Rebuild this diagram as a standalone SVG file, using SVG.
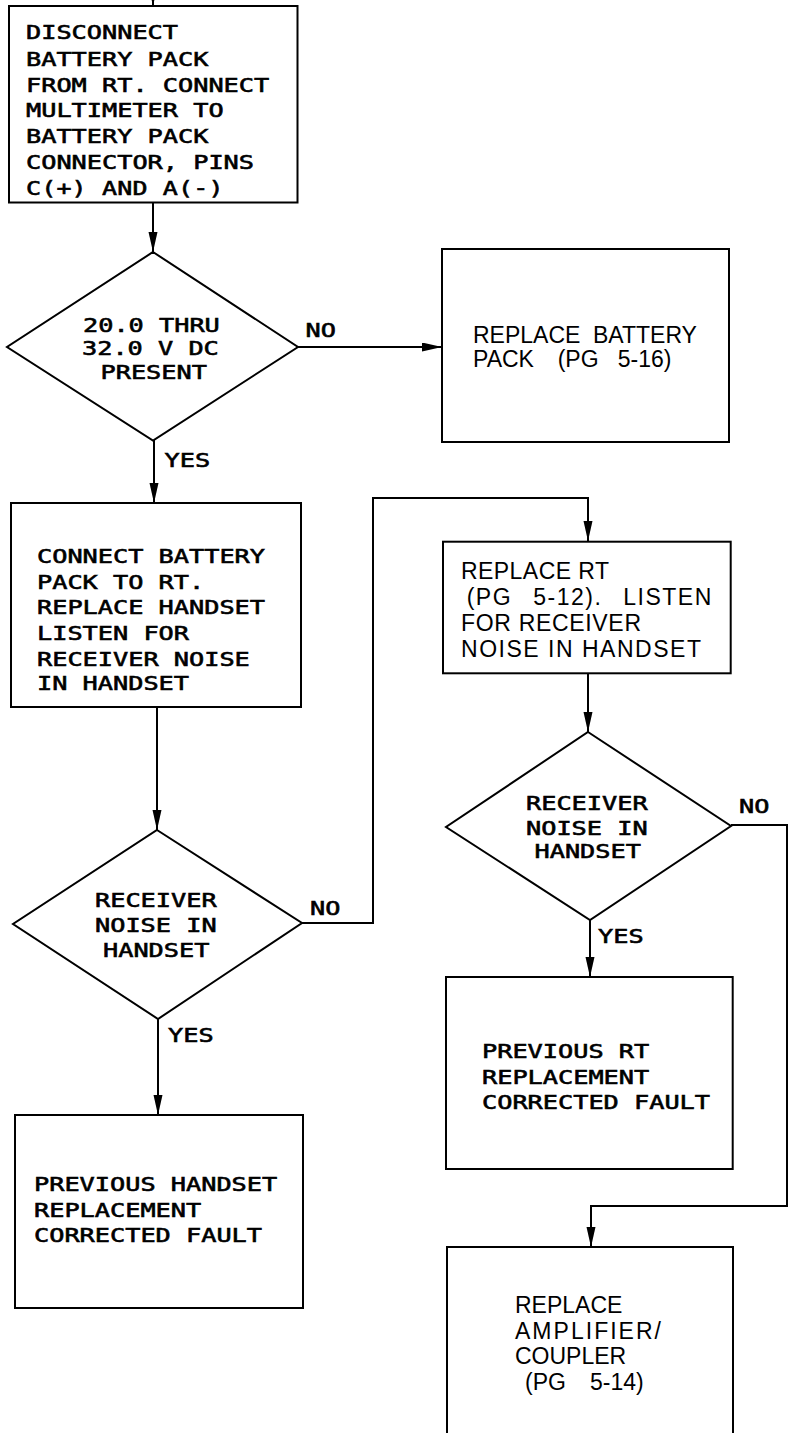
<svg xmlns="http://www.w3.org/2000/svg" width="788" height="1433" viewBox="0 0 788 1433">
<style>
.box{fill:none;stroke:#000;stroke-width:2}
.ln{fill:none;stroke:#000;stroke-width:2}
.p{font-family:"DejaVu Sans Mono","Liberation Mono",monospace;font-size:20px;font-weight:normal;fill:#000;stroke:#000;stroke-width:0.6}
.h{font-family:"Liberation Sans",Arial,sans-serif;font-size:23px;fill:#000}
</style>
<defs>
<marker id="arr" markerUnits="userSpaceOnUse" markerWidth="22" markerHeight="10" refX="20" refY="4.5" orient="auto">
<path d="M0,0 L20,4.5 L0,9 z" fill="#000"/>
</marker>
</defs>
<rect width="788" height="1433" fill="#fff"/>

<g id="connectors">
<path class="ln" d="M153,-20 V6" marker-end="url(#arr)"/>
<path class="ln" d="M153,202 V252" marker-end="url(#arr)"/>
<path class="ln" d="M298,347 H442" marker-end="url(#arr)"/>
<path class="ln" d="M154,440 V503" marker-end="url(#arr)"/>
<path class="ln" d="M157,707 V830" marker-end="url(#arr)"/>
<path class="ln" d="M302,923 H373 V498 H588 V541" marker-end="url(#arr)"/>
<path class="ln" d="M158,1019 V1115" marker-end="url(#arr)"/>
<path class="ln" d="M588,673 V732" marker-end="url(#arr)"/>
<path class="ln" d="M590,920 V977" marker-end="url(#arr)"/>
<path class="ln" d="M731,825 H787 V1206 H591 V1247" marker-end="url(#arr)"/>
<text class="p" x="305.5" y="337" textLength="30.4" lengthAdjust="spacingAndGlyphs">NO</text>
<text class="p" x="164.5" y="466.5" textLength="45.6" lengthAdjust="spacingAndGlyphs">YES</text>
<text class="p" x="310" y="915" textLength="30.4" lengthAdjust="spacingAndGlyphs">NO</text>
<text class="p" x="168" y="1042" textLength="45.6" lengthAdjust="spacingAndGlyphs">YES</text>
<text class="p" x="739" y="813" textLength="30.4" lengthAdjust="spacingAndGlyphs">NO</text>
<text class="p" x="598" y="943" textLength="45.6" lengthAdjust="spacingAndGlyphs">YES</text>
</g>

<g id="n1">
<rect class="box" x="9" y="6" width="288.5" height="196.5"/>
<text class="p" x="26" y="39" textLength="152" lengthAdjust="spacingAndGlyphs">DISCONNECT</text>
<text class="p" x="26" y="65.5" textLength="182.4" lengthAdjust="spacingAndGlyphs">BATTERY PACK</text>
<text class="p" x="26" y="91.5" textLength="243.2" lengthAdjust="spacingAndGlyphs">FROM RT. CONNECT</text>
<text class="p" x="26" y="117" textLength="197.6" lengthAdjust="spacingAndGlyphs">MULTIMETER TO</text>
<text class="p" x="26" y="143" textLength="182.4" lengthAdjust="spacingAndGlyphs">BATTERY PACK</text>
<text class="p" x="26" y="168.5" textLength="228" lengthAdjust="spacingAndGlyphs">CONNECTOR, PINS</text>
<text class="p" transform="translate(26,195) scale(1.25,1)" x="0 12.16 12.16 24.32 36.48 48.64 60.8 72.96 85.12 97.28 109.44 121.6 121.6 133.76 145.92" y="0">C (+) AND A (-)</text>
</g>

<g id="d1">
<polygon class="box" points="153,252 298,347 153,440.5 7,347"/>
<text class="p" x="83" y="331.5" textLength="136.8" lengthAdjust="spacingAndGlyphs">20.0 THRU</text>
<text class="p" x="82" y="355" textLength="136.8" lengthAdjust="spacingAndGlyphs">32.0 V DC</text>
<text class="p" x="100.5" y="379" textLength="106.4" lengthAdjust="spacingAndGlyphs">PRESENT</text>
</g>

<g id="n2">
<rect class="box" x="442" y="249" width="287" height="193"/>
<text class="h" y="343"><tspan x="473">REPLACE </tspan><tspan x="593">BATTERY</tspan></text>
<text class="h" y="367"><tspan x="473">PACK </tspan><tspan x="557.7">(PG </tspan><tspan x="617.7">5-16)</tspan></text>
</g>

<g id="n3">
<rect class="box" x="11" y="503" width="290" height="204"/>
<text class="p" x="37" y="563.3" textLength="228" lengthAdjust="spacingAndGlyphs">CONNECT BATTERY</text>
<text class="p" x="37" y="589" textLength="167.2" lengthAdjust="spacingAndGlyphs">PACK TO RT.</text>
<text class="p" x="37" y="614.3" textLength="228" lengthAdjust="spacingAndGlyphs">REPLACE HANDSET</text>
<text class="p" x="37" y="640" textLength="152" lengthAdjust="spacingAndGlyphs">LISTEN FOR</text>
<text class="p" x="37" y="665.7" textLength="212.8" lengthAdjust="spacingAndGlyphs">RECEIVER NOISE</text>
<text class="p" x="37" y="690" textLength="152" lengthAdjust="spacingAndGlyphs">IN HANDSET</text>
</g>

<g id="d2">
<polygon class="box" points="157,830 302,923 158,1019 13,924"/>
<text class="p" x="95" y="907" textLength="121.6" lengthAdjust="spacingAndGlyphs">RECEIVER</text>
<text class="p" x="95" y="932" textLength="121.6" lengthAdjust="spacingAndGlyphs">NOISE IN</text>
<text class="p" x="103" y="957" textLength="106.4" lengthAdjust="spacingAndGlyphs">HANDSET</text>
</g>

<g id="n4">
<rect class="box" x="15" y="1115" width="288" height="193"/>
<text class="p" x="34" y="1191" textLength="243.2" lengthAdjust="spacingAndGlyphs">PREVIOUS HANDSET</text>
<text class="p" x="34" y="1216.7" textLength="167.2" lengthAdjust="spacingAndGlyphs">REPLACEMENT</text>
<text class="p" x="34" y="1241.7" textLength="228" lengthAdjust="spacingAndGlyphs">CORRECTED FAULT</text>
</g>

<g id="n5">
<rect class="box" x="443" y="541.7" width="287.7" height="131.6"/>
<text class="h" x="461" y="579.3" textLength="148" lengthAdjust="spacing">REPLACE RT</text>
<text class="h" y="605" letter-spacing="1.5"><tspan x="466.7">(PG </tspan><tspan x="533.3">5-12). </tspan><tspan x="623.3">LISTEN</tspan></text>
<text class="h" x="461" y="631" textLength="180" lengthAdjust="spacing">FOR RECEIVER</text>
<text class="h" x="461" y="656.7" textLength="240" lengthAdjust="spacing">NOISE IN HANDSET</text>
</g>

<g id="d3">
<polygon class="box" points="588,732 731,826 590,920 446,827"/>
<text class="p" x="526" y="810" textLength="121.6" lengthAdjust="spacingAndGlyphs">RECEIVER</text>
<text class="p" x="526" y="835" textLength="121.6" lengthAdjust="spacingAndGlyphs">NOISE IN</text>
<text class="p" x="534.5" y="858.3" textLength="106.4" lengthAdjust="spacingAndGlyphs">HANDSET</text>
</g>

<g id="n6">
<rect class="box" x="446" y="977" width="286.7" height="192"/>
<text class="p" x="482" y="1058" textLength="167.2" lengthAdjust="spacingAndGlyphs">PREVIOUS RT</text>
<text class="p" x="482" y="1084" textLength="167.2" lengthAdjust="spacingAndGlyphs">REPLACEMENT</text>
<text class="p" x="482" y="1109.3" textLength="228" lengthAdjust="spacingAndGlyphs">CORRECTED FAULT</text>
</g>

<g id="n7">
<rect class="box" x="447" y="1247" width="286" height="200"/>
<text class="h" x="515" y="1313.3">REPLACE</text>
<text class="h" x="515" y="1339.3" textLength="146" lengthAdjust="spacing">AMPLIFIER/</text>
<text class="h" x="515" y="1364.3">COUPLER</text>
<text class="h" y="1390"><tspan x="525">(PG </tspan><tspan x="590">5-14)</tspan></text>
</g>
</svg>
